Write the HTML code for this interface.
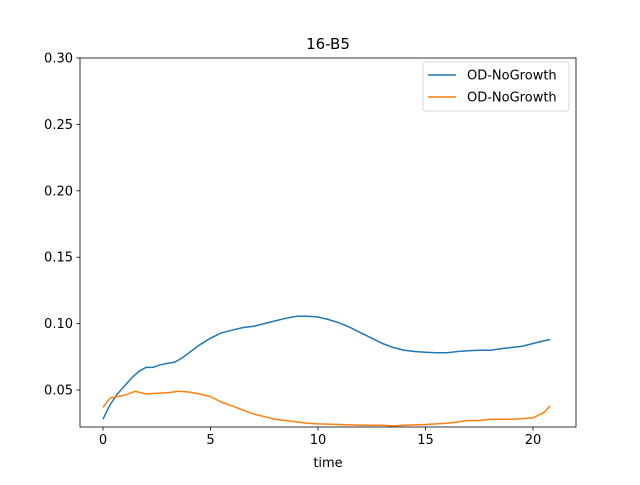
<!DOCTYPE html>
<html><head><meta charset="utf-8"><style>
body{margin:0;background:#fff;font-family:"Liberation Sans","DejaVu Sans",sans-serif}
svg text{font-family:"DejaVu Sans","Liberation Sans",sans-serif;font-size:13px;fill:#000}
</style></head><body>
<svg id="c" width="640" height="480"></svg>
<script>
const blueX=[0,0.33,0.67,1,1.33,1.67,2,2.33,2.67,3,3.33,3.67,4,4.5,5,5.5,6,6.5,7,7.5,8,8.5,9,9.5,10,10.5,11,11.5,12,12.5,13,13.5,14,14.5,15,15.5,16,16.5,17,17.5,18,18.5,19,19.5,20,20.5,20.8];
const blueY=[0.028,0.039,0.047,0.053,0.059,0.064,0.067,0.067,0.069,0.070,0.071,0.074,0.078,0.084,0.089,0.093,0.095,0.097,0.098,0.100,0.102,0.104,0.1055,0.1055,0.105,0.103,0.1005,0.097,0.093,0.089,0.085,0.082,0.080,0.079,0.0785,0.078,0.078,0.079,0.0795,0.080,0.080,0.081,0.082,0.083,0.085,0.087,0.088];
const orangeX=[0,0.33,0.67,1,1.5,2,2.5,3,3.5,4,4.5,5,5.5,6,6.5,7,7.5,8,8.5,9,9.5,10,11,12,13,13.5,14,15,16,16.5,17,17.5,18,19,19.5,20,20.5,20.8];
const orangeY=[0.037,0.044,0.045,0.046,0.049,0.047,0.0475,0.048,0.049,0.0485,0.047,0.045,0.041,0.038,0.035,0.032,0.030,0.028,0.027,0.026,0.025,0.0245,0.024,0.0235,0.0235,0.023,0.0235,0.024,0.025,0.026,0.027,0.027,0.028,0.028,0.0285,0.029,0.033,0.038];
const xTicks=[0,5,10,15,20];
const yTicks=[0.05,0.10,0.15,0.20,0.25,0.30];
const yTickLabels=["0.05","0.10","0.15","0.20","0.25","0.30"];
const L=80,R=576,T=58,B=427;
const xs=v=>103+v*21.5;
const ys=v=>390-(v-0.05)*1328;
const svg=document.getElementById('c');
const NS='http://www.w3.org/2000/svg';
function mk(tag,attrs,parent){const e=document.createElementNS(NS,tag);for(const k in attrs)e.setAttribute(k,attrs[k]);(parent||svg).appendChild(e);return e;}
let e;
e=mk('rect',{x:L,y:T,width:R-L,height:B-T,fill:'none',stroke:'#000','stroke-width':0.8});


xTicks.forEach(t=>{const x=xs(t);
 e=mk('line',{x1:x,x2:x,y1:B,y2:B+3.5,stroke:'#000','stroke-width':0.8});
 
 
 e=mk('text',{x:x,y:B+17,'text-anchor':'middle'});e.textContent=t;
 
 
});
yTicks.forEach((t,i)=>{const y=ys(t);
 e=mk('line',{x1:L-3.5,x2:L,y1:y,y2:y,stroke:'#000','stroke-width':0.8});
 
 
 e=mk('text',{x:L-7,y:y+4.5,'text-anchor':'end'});e.textContent=yTickLabels[i];
 
 
});
function series(X,Y,c,name){
 const d=X.map((x,i)=>(i?'L':'M')+xs(x).toFixed(1)+','+ys(Y[i]).toFixed(1)).join('');
 e=mk('path',{d:d,fill:'none',stroke:c,'stroke-width':1.5});
 
 
}
series(blueX,blueY,'#1f77b4','series-blue');
series(orangeX,orangeY,'#ff7f0e','series-orange');
e=mk('text',{x:328,y:49,'text-anchor':'middle',style:'font-size:15px'});e.textContent='16-B5';


e=mk('text',{x:328,y:467,'text-anchor':'middle'});e.textContent='time';


const g=mk('g',{});


mk('rect',{x:423,y:62,width:146,height:49,rx:3,fill:'#fff',stroke:'#ccc','stroke-width':0.8},g);
[['#1f77b4',75],['#ff7f0e',97]].forEach(([c,y])=>{
 e=mk('line',{x1:428,x2:456,y1:y,y2:y,stroke:c,'stroke-width':1.5},g);
 
 
 e=mk('text',{x:467,y:y+4.5},g);e.textContent='OD-NoGrowth';
 
 
});
</script>
</body></html>
